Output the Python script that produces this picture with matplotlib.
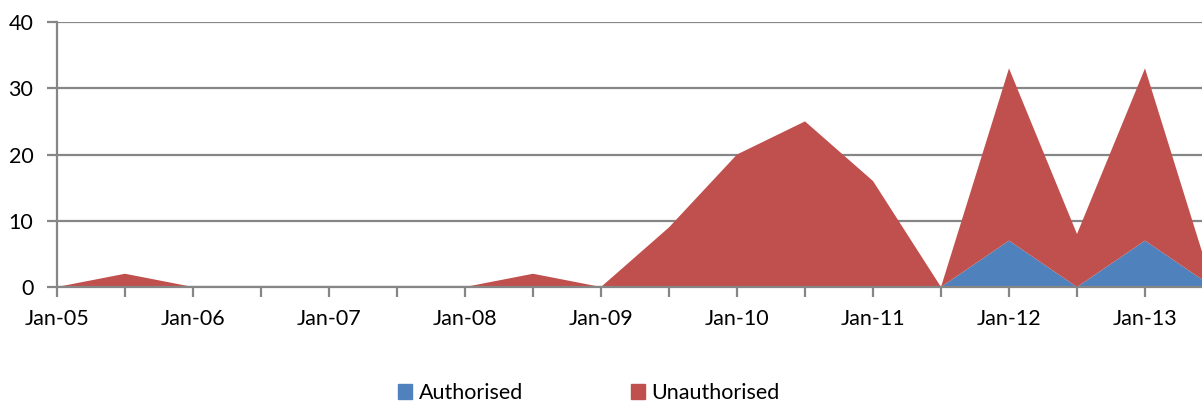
import matplotlib.pyplot as plt
from matplotlib.patches import Patch

periods = ["Jan-05", "Jul-05", "Jan-06", "Jul-06", "Jan-07", "Jul-07", "Jan-08", "Jul-08",
           "Jan-09", "Jul-09", "Jan-10", "Jul-10", "Jan-11", "Jul-11", "Jan-12", "Jul-12",
           "Jan-13", "Jul-13"]
authorised = [0, 0, 0, 0, 0, 0, 0, 0, 0, 0, 0, 0, 0, 0, 7, 0, 7, 0]
unauthorised = [0, 2, 0, 0, 0, 0, 0, 2, 0, 9, 20, 25, 16, 0, 26, 8, 26, 0]

blue = "#4F81BD"
red = "#C0504D"
grid_c = "#868686"

plt.rcParams['font.family'] = ['Lato', 'DejaVu Sans']

W, H = 1202, 403
fig = plt.figure(figsize=(W / 100, H / 100), dpi=100)
x0, x1 = 57, 1213
y0, y1 = 287, 22
ax = fig.add_axes([x0 / W, (H - y0) / H, (x1 - x0) / W, (y0 - y1) / H])

xs = list(range(len(periods)))
ax.stackplot(xs, authorised, unauthorised, colors=[blue, red], linewidth=0)

ax.set_xlim(0, len(periods) - 1)
ax.set_ylim(0, 40)
ax.set_yticks([0, 10, 20, 30, 40])
ax.yaxis.grid(True, color=grid_c, linewidth=1.6)
ax.set_axisbelow(True)

ax.set_xticks(xs)
ax.set_xticklabels([p if i % 2 == 0 else "" for i, p in enumerate(periods)])

for s in ["top", "right"]:
    ax.spines[s].set_visible(False)
for s in ["left", "bottom"]:
    ax.spines[s].set_color(grid_c)
    ax.spines[s].set_linewidth(1.6)
ax.spines["bottom"].set_zorder(3)

ax.tick_params(axis="both", colors=grid_c, width=1.6, length=7, labelsize=15.5,
               labelcolor="black")
ax.tick_params(axis="x", pad=9)
ax.tick_params(axis="y", pad=10)

handles = [Patch(color=blue, label="Authorised"), Patch(color=red, label="Unauthorised")]
fig.legend(handles=handles, loc="center", bbox_to_anchor=(589 / W, (H - 393) / H),
           ncol=2, frameon=False, fontsize=15.5, handlelength=0.65, handleheight=0.65,
           handletextpad=0.3, columnspacing=5.0)

fig.savefig("out.png", dpi=100)
